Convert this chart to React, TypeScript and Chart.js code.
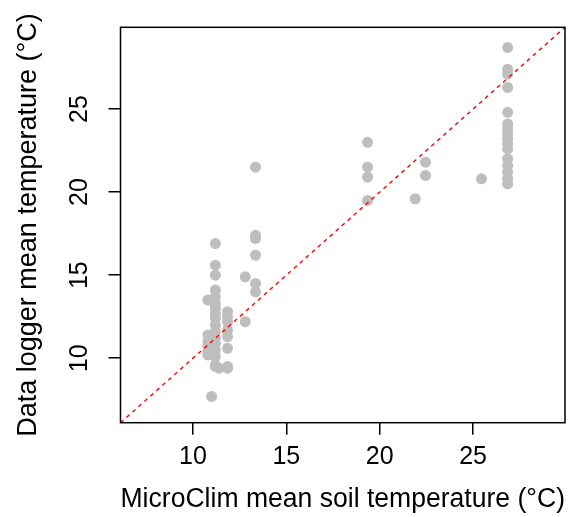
import React, { useEffect, useRef } from "react";
import { Chart, registerables } from "chart.js";

Chart.register(...registerables);

// MicroClim mean soil temperature (°C)
const soilTemp: number[] = [
  10.8, 10.8, 10.8, 10.8, 10.8, 10.8,
  11.2, 11.2, 11.2, 11.2, 11.2, 11.2, 11.2, 11.2, 11.2, 11.2, 11.2, 11.2, 11.2, 11.2, 11.2, 11.2, 11.2,
  11.0, 11.4,
  11.85, 11.85, 11.85, 11.85, 11.85, 11.85, 11.85, 11.85,
  12.8, 12.8,
  13.35, 13.35, 13.35, 13.35, 13.35, 13.35,
  19.35, 19.35, 19.35, 19.35,
  21.9, 22.45, 22.45, 25.45,
  26.85, 26.85, 26.85, 26.85, 26.85, 26.85, 26.85, 26.85, 26.85, 26.85, 26.85, 26.85, 26.85, 26.85, 26.85, 26.85,
];
// Data logger mean temperature (°C)
const loggerTemp: number[] = [
  13.5, 11.4, 11.0, 10.7, 10.4, 10.2,
  16.9, 15.6, 15.0, 14.1, 13.7, 13.3, 13.0, 12.7, 12.4, 12.0, 11.6, 11.2, 10.9, 10.5, 10.1, 9.6, 9.5,
  7.7, 9.4,
  12.8, 12.5, 12.2, 11.7, 11.3, 10.6, 9.5, 9.4,
  14.9, 12.2,
  21.5, 17.4, 17.2, 16.2, 14.5, 14.0,
  23.0, 21.5, 20.9, 19.5,
  19.6, 21.8, 21.0, 20.8,
  28.7, 27.4, 27.1, 26.3, 24.8, 24.1, 23.8, 23.5, 23.2, 22.9, 22.6, 22.0, 21.6, 21.2, 20.8, 20.5,
];

const xTicks: number[] = [10, 15, 20, 25];
const yTicks: number[] = [10, 15, 20, 25];
const axisRange: number[] = [6.12, 29.92];

const xTitle = "MicroClim mean soil temperature (\u00B0C)";
const yTitle = "Data logger mean temperature (\u00B0C)";

const FONT = "'Liberation Sans', Arial, sans-serif";

const boxPlugin = {
  id: "rbox",
  afterDraw(chart: any) {
    const { ctx, chartArea } = chart;
    ctx.save();
    ctx.strokeStyle = "#000";
    ctx.lineWidth = 1.5;
    ctx.strokeRect(chartArea.left, chartArea.top, chartArea.right - chartArea.left, chartArea.bottom - chartArea.top);
    const ys = chart.scales.y;
    ctx.fillStyle = "#000";
    ctx.font = `25px ${FONT}`;
    ctx.textAlign = "center";
    ctx.textBaseline = "middle";
    for (const v of yTicks) {
      const py = ys.getPixelForValue(v);
      ctx.save();
      ctx.translate(80, py);
      ctx.rotate(-Math.PI / 2);
      ctx.fillText(String(v), 0, 0);
      ctx.restore();
    }
    ctx.restore();
  },
};

export default function App() {
  const ref = useRef<HTMLCanvasElement | null>(null);
  useEffect(() => {
    if (!ref.current) return;
    const points = soilTemp.map((x, i) => ({ x, y: loggerTemp[i] }));
    const chart = new Chart(ref.current, {
      type: "scatter",
      data: {
        datasets: [
          {
            type: "line",
            data: [
              { x: axisRange[0], y: axisRange[0] },
              { x: axisRange[1], y: axisRange[1] },
            ],
            borderColor: "#FF0000",
            borderWidth: 1.4,
            borderDash: [4, 4],
            pointRadius: 0,
            fill: false,
            order: 0,
          } as any,
          {
            data: points,
            backgroundColor: "#BEBEBE",
            borderWidth: 0,
            pointRadius: 5.5,
            order: 1,
          },
        ],
      },
      options: {
        animation: false,
        responsive: false,
        layout: { padding: { top: 27.3, right: 7, left: 0, bottom: 0 } },
        plugins: { legend: { display: false }, tooltip: { enabled: false } },
        scales: {
          x: {
            type: "linear",
            min: axisRange[0],
            max: axisRange[1],
            afterBuildTicks: (s: any) => {
              s.ticks = xTicks.map((v) => ({ value: v }));
            },
            afterFit: (s: any) => {
              s.height = 94.3;
            },
            border: { display: false },
            grid: { drawOnChartArea: false, drawTicks: true, tickLength: 12, color: "#000", lineWidth: 1.5 },
            ticks: { color: "#000", font: { family: FONT, size: 25 }, padding: 7, maxRotation: 0 },
            title: { display: true, text: xTitle, color: "#000", font: { family: FONT, size: 27 }, padding: { top: 0, bottom: 1 } },
          },
          y: {
            type: "linear",
            min: axisRange[0],
            max: axisRange[1],
            afterBuildTicks: (s: any) => {
              s.ticks = yTicks.map((v) => ({ value: v }));
            },
            afterFit: (s: any) => {
              s.width = 120.5;
            },
            border: { display: false },
            grid: { drawOnChartArea: false, drawTicks: true, tickLength: 12, color: "#000", lineWidth: 1.5 },
            ticks: { color: "transparent", font: { family: FONT, size: 25 } },
            title: { display: true, text: yTitle, color: "#000", font: { family: FONT, size: 27 }, padding: { top: 12, bottom: 0 } },
          },
        },
      },
      plugins: [boxPlugin],
    });
    return () => chart.destroy();
  }, []);
  return (
    <div style={{ position: "fixed", left: 0, top: 0, width: 572, height: 517, background: "#fff" }}>
      <canvas ref={ref} width={572} height={517} />
    </div>
  );
}
